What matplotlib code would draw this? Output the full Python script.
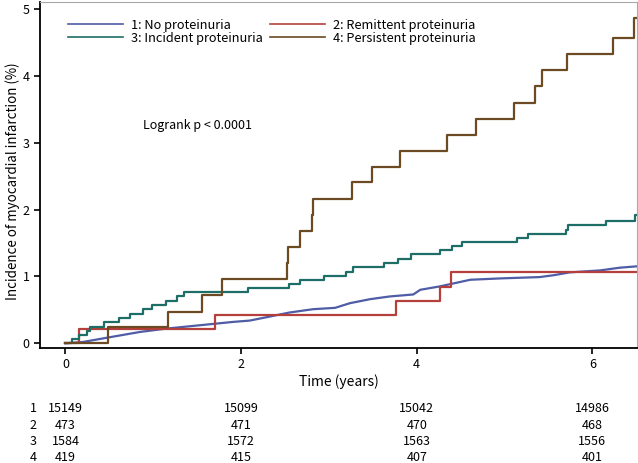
import numpy as np
import matplotlib
matplotlib.use("Agg")
import matplotlib.pyplot as plt
import matplotlib.transforms as mtransforms

plt.rcParams["font.family"] = ["Noto Sans CJK KR", "DejaVu Sans"]

# group 1: no proteinuria (read as a smooth-ish curve)
t_none = [0.0, 0.20, 0.50, 0.85, 1.15, 1.53, 1.91, 2.10, 2.29, 2.55, 2.82, 3.07,
          3.24, 3.47, 3.69, 3.96, 4.04, 4.26, 4.61, 4.95, 5.40, 5.57, 5.74, 6.09,
          6.31, 6.50]
y_none = [0.0, 0.02, 0.09, 0.17, 0.22, 0.27, 0.32, 0.34, 0.39, 0.46, 0.51, 0.53,
          0.60, 0.66, 0.70, 0.73, 0.80, 0.85, 0.95, 0.97, 0.99, 1.02, 1.06, 1.09,
          1.13, 1.15]

# group 2: remittent proteinuria (step times / levels)
t_remit = [0.0, 0.15, 1.70, 3.76, 4.27, 4.39, 6.50]
y_remit = [0.0, 0.21, 0.42, 0.63, 0.84, 1.06, 1.06]

# group 3: incident proteinuria
t_incid = [0.0, 0.08, 0.15, 0.24, 0.28, 0.44, 0.61, 0.73, 0.88, 0.98, 1.15, 1.27,
           1.35, 2.08, 2.55, 2.67, 2.94, 3.19, 3.27, 3.63, 3.79, 3.93, 4.27, 4.40,
           4.51, 5.14, 5.27, 5.70, 5.72, 6.15, 6.49, 6.50]
y_incid = [0.0, 0.06, 0.13, 0.19, 0.25, 0.32, 0.38, 0.44, 0.51, 0.57, 0.63, 0.70,
           0.76, 0.82, 0.88, 0.95, 1.01, 1.07, 1.14, 1.20, 1.26, 1.33, 1.39, 1.45,
           1.51, 1.58, 1.64, 1.70, 1.77, 1.83, 1.92, 1.92]

# group 4: persistent proteinuria
t_pers = [0.0, 0.48, 1.165, 1.56, 1.78, 2.52, 2.53, 2.67, 2.81, 2.82, 3.26, 3.49,
          3.81, 4.34, 4.67, 5.11, 5.35, 5.43, 5.71, 6.24, 6.47, 6.50]
y_pers = [0.0, 0.24, 0.47, 0.72, 0.96, 1.20, 1.44, 1.68, 1.92, 2.16, 2.41, 2.64,
          2.88, 3.12, 3.36, 3.59, 3.84, 4.08, 4.32, 4.57, 4.87, 4.87]

labels = ["1: No proteinuria", "2: Remittent proteinuria",
          "3: Incident proteinuria", "4: Persistent proteinuria"]
colors = ["#4f5ca6", "#b53f3a", "#1e6e68", "#6b4a24"]

risk_times = [0, 2, 4, 6]
at_risk = [[15149, 15099, 15042, 14986],
           [473, 471, 470, 468],
           [1584, 1572, 1563, 1556],
           [419, 415, 407, 401]]

fig = plt.figure(figsize=(6.38, 4.63), dpi=100)
ax = fig.add_axes([0.0627, 0.2484, 0.936, 0.747])

l1, = ax.plot(t_none, y_none, color=colors[0], lw=1.6)
l2, = ax.plot(t_remit, y_remit, color=colors[1], lw=1.6, drawstyle="steps-post")
l3, = ax.plot(t_incid, y_incid, color=colors[2], lw=1.6, drawstyle="steps-post")
l4, = ax.plot(t_pers, y_pers, color=colors[3], lw=1.6, drawstyle="steps-post")

ax.set_xlim(-0.29, 6.51)
ax.set_ylim(-0.07, 5.1)
ax.set_xticks([0, 2, 4, 6])
ax.set_yticks([0, 1, 2, 3, 4, 5])
ax.tick_params(direction="out", length=4, width=1.2, labelsize=9, color="black")
ax.spines["left"].set_linewidth(1.3)
ax.spines["bottom"].set_linewidth(1.3)
ax.spines["top"].set_color("#a8a8a8")
ax.spines["right"].set_color("#a8a8a8")

ax.set_xlabel("Time (years)", fontsize=10, labelpad=2)
ax.set_ylabel("Incidence of myocardial infarction (%)", fontsize=9.6)
ax.yaxis.set_label_coords(-0.046, 0.483)
ax.yaxis.label.set_va("center")

ax.text(0.88, 3.26, "Logrank p < 0.0001", fontsize=9, va="center", ha="left")

# matplotlib fills legend columns first, so order handles for row layout 1 2 / 3 4
leg = ax.legend([l1, l3, l2, l4], [labels[0], labels[2], labels[1], labels[3]],
                ncol=2, loc="upper left", bbox_to_anchor=(0.028, 0.985),
                frameon=False, fontsize=9.2, handlelength=4.3, handletextpad=0.65,
                columnspacing=0.5, labelspacing=0.0)
for h in leg.get_lines():
    h.set_linewidth(1.2)

# number at risk table
trans = mtransforms.blended_transform_factory(ax.transData, fig.transFigure)
row_y = [0.1112, 0.0745, 0.0389, 0.0050]
for i, row in enumerate(at_risk):
    fig.text(0.052, row_y[i], str(i + 1), fontsize=9, ha="center", va="baseline")
    for t, n in zip(risk_times, row):
        ax.text(t, row_y[i], str(n), fontsize=9, ha="center", va="baseline",
                transform=trans, clip_on=False)

fig.savefig("out.png", dpi=100)
